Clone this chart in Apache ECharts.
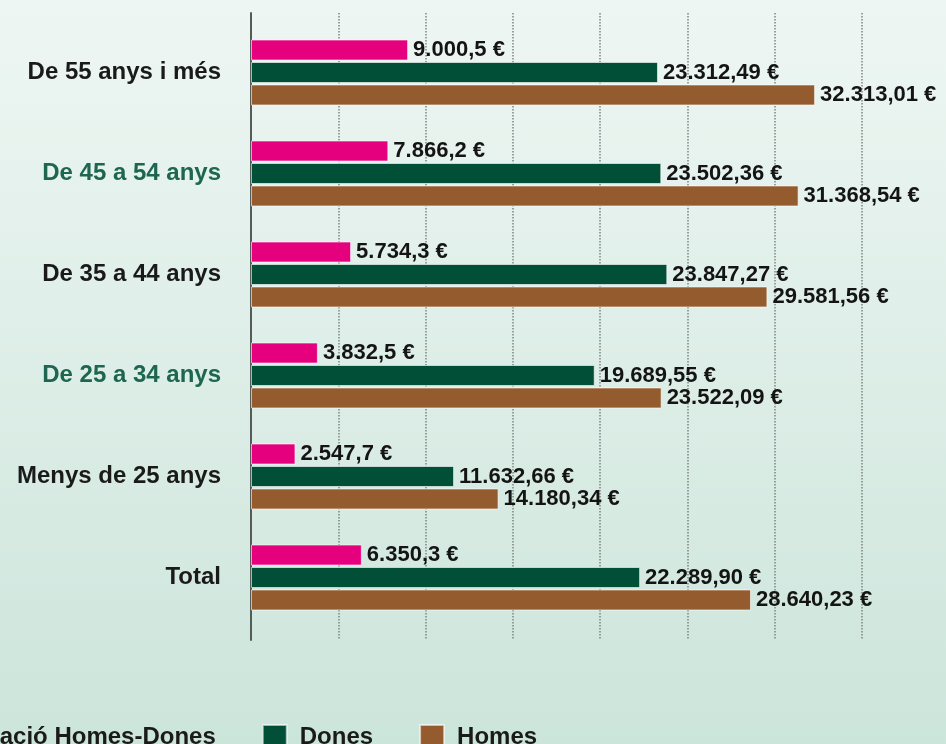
<!DOCTYPE html>
<html lang="ca">
<head>
    <meta charset="UTF-8">
    <title>Diferència salarial per edats</title>
    <script src="https://cdn.jsdelivr.net/npm/echarts@6/dist/echarts.min.js"></script>
    <style>
        html, body { margin: 0; padding: 0; }
        #chart { width: 946px; height: 744px; }
    </style>
</head>
<body>
<div id="chart"></div>
<script>
    // dades
    var categories = ['De 55 anys i més', 'De 45 a 54 anys', 'De 35 a 44 anys', 'De 25 a 34 anys', 'Menys de 25 anys', 'Total'];
    var diferencia = [9000.5, 7866.2, 5734.3, 3832.5, 2547.7, 6350.3];
    var dones = [23312.49, 23502.36, 23847.27, 19689.55, 11632.66, 22289.90];
    var homes = [32313.01, 31368.54, 29581.56, 23522.09, 14180.34, 28640.23];
    var seriesNames = ['Diferenciació Homes-Dones', 'Dones', 'Homes'];
    var categoryColors = ['#1a1a1a', '#1d6650', '#1a1a1a', '#1d6650', '#1a1a1a', '#1a1a1a'];

    // format català: 23.312,49 €
    function fmt(v, d) {
        var s = v.toFixed(d).split('.');
        s[0] = s[0].replace(/\B(?=(\d{3})+(?!\d))/g, '.');
        return s.join(',') + ' €';
    }

    var myChart = echarts.init(document.getElementById('chart'));

    var labelStyle = function (decimals) {
        return {
            show: true,
            position: 'right',
            distance: 5,
            color: '#141414',
            fontFamily: '"Liberation Sans", Arial, sans-serif',
            fontWeight: 'bold',
            fontSize: 22,
            formatter: function (p) { return fmt(p.value, decimals); }
        };
    };

    var option = {
        backgroundColor: {
            type: 'linear', x: 0, y: 0, x2: 0, y2: 1,
            colorStops: [{offset: 0, color: '#eef6f3'}, {offset: 1, color: '#cce5db'}]
        },
        animation: false,
        legend: {
            left: -146,
            top: 719,
            itemWidth: 24,
            itemHeight: 24,
            itemGap: 46,
            icon: 'rect',
            textStyle: {
                fontFamily: '"Liberation Sans", Arial, sans-serif',
                fontWeight: 'bold',
                fontSize: 24,
                color: '#1a1a1a',
                padding: [0, 0, 0, 8]
            },
            data: seriesNames
        },
        grid: [
            {left: 251, width: 611, top: 13, bottom: 104},
            {left: 251, width: 611, top: 22, height: 606}
        ],
        xAxis: [{
            gridIndex: 0,
            type: 'value',
            min: 0, max: 35000, interval: 5000,
            axisLine: {show: false},
            axisTick: {show: false},
            axisLabel: {show: false},
            splitLine: {show: true, lineStyle: {color: '#7d8583', type: 'dotted', width: 1.5}}
        }, {
            gridIndex: 1,
            type: 'value',
            min: 0, max: 35000,
            show: false
        }],
        yAxis: [{
            gridIndex: 0,
            type: 'value',
            min: 0, max: 1,
            axisLine: {show: true, lineStyle: {color: '#555b59', width: 2}},
            axisTick: {show: false},
            axisLabel: {show: false},
            splitLine: {show: false}
        }, {
            gridIndex: 1,
            type: 'category',
            inverse: true,
            data: categories,
            axisLine: {show: false},
            axisTick: {show: false},
            axisLabel: {
                margin: 30,
                fontFamily: '"Liberation Sans", Arial, sans-serif',
                fontWeight: 'bold',
                fontSize: 24,
                color: function (value) {
                    return categoryColors[categories.indexOf(value)];
                }
            }
        }],
        series: [{
            name: seriesNames[0],
            type: 'bar',
            xAxisIndex: 1, yAxisIndex: 1,
            data: diferencia,
            barWidth: 21,
            barGap: '7%',
            itemStyle: {color: '#e5007d', borderColor: 'rgba(255,255,255,0.6)', borderWidth: 1},
            label: labelStyle(1)
        }, {
            name: seriesNames[1],
            type: 'bar',
            xAxisIndex: 1, yAxisIndex: 1,
            data: dones,
            barWidth: 21,
            barGap: '7%',
            itemStyle: {color: '#004f36', borderColor: 'rgba(255,255,255,0.6)', borderWidth: 1},
            label: labelStyle(2)
        }, {
            name: seriesNames[2],
            type: 'bar',
            xAxisIndex: 1, yAxisIndex: 1,
            data: homes,
            barWidth: 21,
            barGap: '7%',
            itemStyle: {color: '#935b2e', borderColor: 'rgba(255,255,255,0.6)', borderWidth: 1},
            label: labelStyle(2)
        }]
    };
    myChart.setOption(option);
</script>
</body>
</html>
